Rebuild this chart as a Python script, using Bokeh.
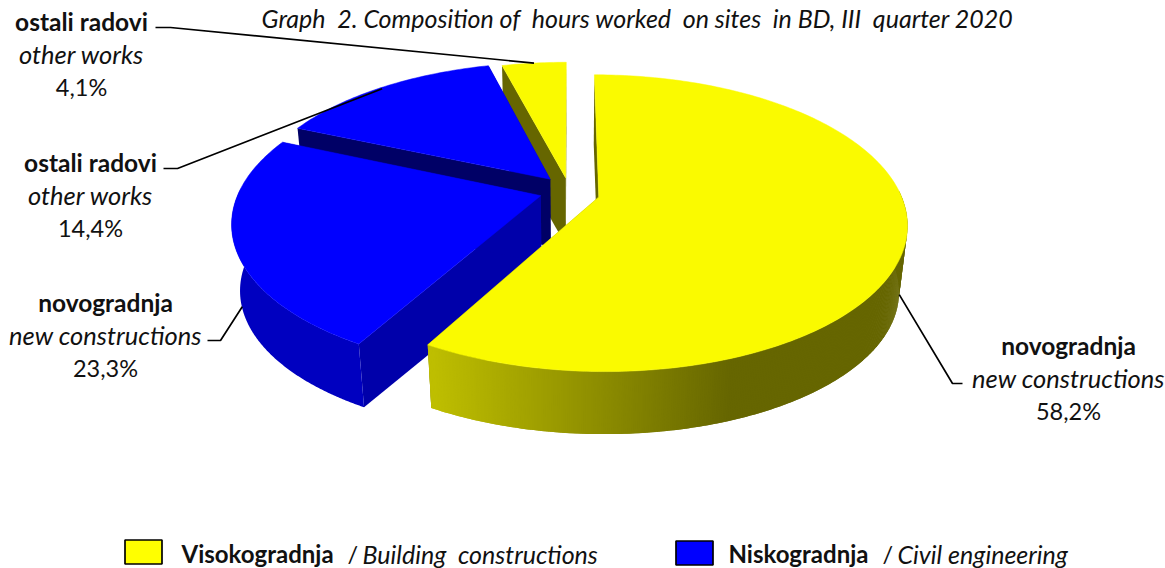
from bokeh.plotting import figure
from bokeh.embed import file_html
from bokeh.resources import INLINE
from bokeh.core.properties import value
import math

# ---- data ----
slice_values = [58.2, 23.3, 14.4, 4.1]
slice_bold = ["novogradnja", "novogradnja", "ostali radovi", "ostali radovi"]
slice_italic = ["new constructions", "new constructions", "other works", "other works"]
slice_pct = ["58,2%", "23,3%", "14,4%", "4,1%"]
title_text = "Graph\u00a0 2. Composition of\u00a0 hours worked\u00a0 on sites\u00a0 in BD, III\u00a0 quarter 2020"
legend_bold = ["Visokogradnja", "Niskogradnja"]
legend_italic = ["Building\u00a0 constructions", "Civil engineering"]

# ---- styling / layout ----
FONT = "Lato"
FS_B, FS_I, FS_R = "24.5px", "25.5px", "23.5px"
W, H = 1165, 568
CX, CY = 569.0, 193.0
F, G, K = 301.0, 142.0, 0.176
EX, EY = 0.10, 0.135
WALL_H, SHRINK = 67.0, 0.975
nudge = [-1.5, -4.0, 0.0, 3.0]
top_col = ["#FAFA00", "#0000FF", "#0000FF", "#FAFA00"]
rim_col = [None, "#0000C0", "#000080", "#666600"]
rad_col = ["#666600", "#0000AA", "#000066", "#666600"]
GRAD_A, GRAD_B, GX0, GX1 = (190, 190, 0), (102, 102, 0), 432.0, 730.0
label_pos = [(1068, 345), (105, 302), (90, 162), (81, 21)]
LINE_GAP = 32
elbows = [((952, 383), (962, 383)), ((220, 340), (207, 340)), ((177, 168), (163, 168)), ((170, 27), (155, 27))]
leader_drop = [0.9, 0.95, 0.02, 0.0]

p = figure(width=W, height=H, x_range=(0, W), y_range=(H, 0),
           output_backend="svg", toolbar_location=None, min_border=0)
p.axis.visible = False
p.grid.visible = False
p.outline_line_color = None

def proj(X, Y, dy):
    d = 1 + K * Y
    return CX + F * X / d, CY - G * Y / d + dy

def low(x, y):
    return CX + (x - CX) * SHRINK + 0, CY + WALL_H + (y - CY) * SHRINK

total = sum(slice_values)
angles = []
a = 0.0
for v in slice_values:
    angles.append((a, a + v / total * 2 * math.pi))
    a += v / total * 2 * math.pi

anchors = []
for i in [3, 2, 1, 0]:
    a0, a1 = angles[i]
    mid = (a0 + a1) / 2
    dy = nudge[i]
    def disc_point(th):
        return proj(math.sin(mid) * EX + math.sin(th), math.cos(mid) * EY + math.cos(th), dy)
    apex = proj(math.sin(mid) * EX, math.cos(mid) * EY, dy)
    n = max(8, int((a1 - a0) * 60))
    ths = [a0 + (a1 - a0) * j / n for j in range(n + 1)]
    rim = [disc_point(t) for t in ths]
    # radial walls
    for r in (rim[0], rim[-1]):
        pts = [apex, r, low(*r), low(*apex)]
        p.patch([q[0] for q in pts], [q[1] for q in pts], fill_color=rad_col[i], line_color=None)
    # outer wall: only the part turned to the viewer
    vis = [t for t in [a0 + (a1 - a0) * j / (n * 3) for j in range(n * 3 + 1)] if math.cos(t) < 0.05]
    rf = [disc_point(t) for t in vis]
    if rf and rim_col[i] is not None:
        pts = rf + [low(*q) for q in reversed(rf)]
        p.patch([q[0] for q in pts], [q[1] for q in pts], fill_color=rim_col[i], line_color=None)
    elif rf:
        for j in range(len(rf) - 1):
            A, B = rf[j], rf[min(j + 2, len(rf) - 1)]
            pts = [A, B, low(*B), low(*A)]
            t = min(1, max(0, ((A[0] + B[0]) / 2 - GX0) / (GX1 - GX0)))
            c = tuple(int(round(GRAD_A[k] + (GRAD_B[k] - GRAD_A[k]) * t)) for k in range(3))
            col = "#%02X%02X%02X" % c
            p.patch([q[0] for q in pts], [q[1] for q in pts], fill_color=col, line_color=None)
    # top face
    pts = [apex] + rim
    p.patch([q[0] for q in pts], [q[1] for q in pts], fill_color=top_col[i], line_color=top_col[i], line_width=0.5)
    # rim anchor for leader
    r = disc_point(mid)
    l = low(*r)
    anchors.append((i, (r[0] + (l[0] - r[0]) * leader_drop[i], r[1] + (l[1] - r[1]) * leader_drop[i])))

for i, anc in anchors:
    e1, e2 = elbows[i]
    p.line([anc[0], e1[0], e2[0]], [anc[1], e1[1], e2[1]], line_color="black", line_width=1.7)

for i in range(4):
    x, y = label_pos[i]
    p.text([x], [y], text=[slice_bold[i]], text_font=value(FONT), text_font_size=FS_B, text_font_style="bold",
           text_align="center", text_baseline="middle", text_color="#111111")
    p.text([x], [y + LINE_GAP], text=[slice_italic[i]], text_font=value(FONT), text_font_size=FS_I, text_font_style="italic",
           text_align="center", text_baseline="middle", text_color="#111111")
    p.text([x], [y + 2 * LINE_GAP + 1], text=[slice_pct[i]], text_font=value(FONT), text_font_size=FS_R,
           text_align="center", text_baseline="middle", text_color="#111111")

p.text([637], [17], text=[title_text], text_font=value(FONT), text_font_size="25px", text_font_style="italic",
       text_align="center", text_baseline="middle", text_color="#111111")

sw_x = [143, 694]
sw_col = ["#FFFF00", "#0000FF"]
p.rect(sw_x, [551.5, 552.5], width=37, height=24, fill_color=sw_col, line_color="black", line_width=1.7)
lx = [181, 728]
sx = [347, 882]
ix = [362, 897]
LEG_Y = 553
for k in range(2):
    p.text([lx[k]], [LEG_Y], text=[legend_bold[k]], text_font=value(FONT), text_font_size="24px", text_font_style="bold",
           text_baseline="middle", text_color="#111111")
    p.text([sx[k]], [LEG_Y], text=["/"], text_font=value(FONT), text_font_size="23.5px",
           text_baseline="middle", text_color="#111111")
    p.text([ix[k]], [LEG_Y], text=[legend_italic[k]], text_font=value(FONT), text_font_size="25px", text_font_style="italic",
           text_baseline="middle", text_color="#111111")

open("out.html", "w").write(file_html(p, INLINE))
